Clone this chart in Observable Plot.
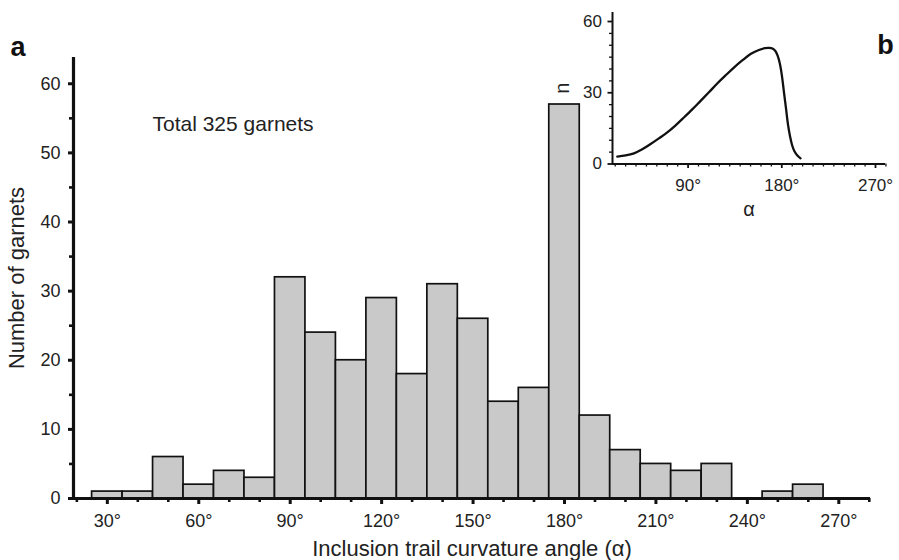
<!DOCTYPE html>
<html><head><meta charset="utf-8">
<script src="https://cdn.jsdelivr.net/npm/d3@7"></script>
<script src="https://cdn.jsdelivr.net/npm/@observablehq/plot@0.6"></script>
<style>
body{margin:0;background:#fff;}
#wrap{position:relative;width:899px;height:560px;font-family:"Liberation Sans",Arial,sans-serif;}
#inset{position:absolute;left:540px;top:0;}
</style></head><body><div id="wrap"><div id="main"></div><div id="inset"></div></div>
<script>
// Histogram: lower edge of each 10° bin and count of garnets
const binLo  = [25, 35, 45, 55, 65, 75, 85, 95, 105, 115, 125, 135, 145, 155, 165, 175, 185, 195, 205, 215, 225, 235, 245, 255];
const counts = [ 1,  1,  6,  2,  4,  3, 32, 24,  20,  29,  18,  31,  26,  14,  16,  57,  12,   7,   5,   4,   5,   0,   1,   2];
const binWidth = 10;

// Axis ticks
const xMajor = [30, 60, 90, 120, 150, 180, 210, 240, 270];
const xMinor = [20, 40, 50, 70, 80, 100, 110, 130, 140, 160, 170, 190, 200, 220, 230, 250, 260, 280];
const yMajor = [0, 10, 20, 30, 40, 50, 60];
const yMinor = [5, 15, 25, 35, 45, 55];

// Inset (b): modelled distribution
const curveAngle = [22, 30, 38, 46, 54, 62, 70, 78, 86, 94, 102, 110, 118, 126, 134, 142, 150, 158, 164, 168, 171, 174, 176, 178, 180, 182, 184, 186, 188, 190, 192, 195, 198];
const curveN     = [3.1, 3.6, 4.5, 6.2, 8.4, 10.8, 13.3, 16.3, 19.6, 23.0, 26.6, 30.2, 33.9, 37.3, 40.6, 43.6, 46.3, 48.0, 48.8, 48.9, 48.6, 47.5, 45.6, 42.5, 37.5, 30.5, 23.5, 16.5, 11.5, 7.8, 5.5, 3.6, 2.4];
const insetXMajor = [90, 180, 270];
const insetXMinor = [20, 30, 40, 50, 60, 70, 80, 100, 110, 120, 130, 140, 150, 160, 170, 190, 200, 210, 220, 230, 240, 250, 260, 280];
const insetYMajor = [0, 30, 60];
const insetYMinor = [5, 10, 15, 20, 25, 35, 40, 45, 50, 55];

const font = '"Liberation Sans", Arial, sans-serif';
const deg = d => d + "°";
const ink = "#111";

const bins = binLo.map((lo, i) => ({lo, hi: lo + binWidth, n: counts[i]}));

// Resize axis texts by their content (tick labels / axis titles)
function sizeTexts(svg, strings, size) {
  const set = new Set(strings.map(String));
  svg.querySelectorAll("text").forEach(t => {
    if (set.has(t.textContent.trim())) {
      t.setAttribute("font-size", size);
      t.style.fontSize = size + "px";
    }
  });
}

const main = Plot.plot({
  width: 899, height: 560,
  marginLeft: 73, marginRight: 29, marginTop: 57, marginBottom: 62,
  style: {fontFamily: font, fontSize: "18px", color: "#222", background: "white", overflow: "visible"},
  x: {domain: [18.9, 280.4], labelArrow: false},
  y: {domain: [0, 63.8], labelArrow: false},
  marks: [
    Plot.rectY(bins, {x1: "lo", x2: "hi", y: "n", fill: "#c9c9c9", stroke: ink, strokeWidth: 1.7}),
    Plot.axisX({ticks: xMinor, tickSize: 4, tickFormat: () => "", stroke: ink, strokeWidth: 2.6, label: null}),
    Plot.axisX({ticks: xMajor, tickSize: 6, tickPadding: 10, tickFormat: deg, stroke: ink, strokeWidth: 3, fontSize: 18,
      label: "Inclusion trail curvature angle (α)", labelAnchor: "center", labelOffset: 57, labelArrow: false}),
    Plot.axisY({ticks: yMinor, tickSize: 4, tickFormat: () => "", stroke: ink, strokeWidth: 2.6, label: null}),
    Plot.axisY({ticks: yMajor, tickSize: 5, tickPadding: 8, stroke: ink, strokeWidth: 3, fontSize: 18,
      label: "Number of garnets", labelAnchor: "center", labelOffset: 65, labelArrow: false}),
    Plot.ruleY([0], {strokeWidth: 3.2, stroke: ink}),
    Plot.ruleX([18.9], {strokeWidth: 3.2, stroke: ink}),
    Plot.text(["Total 325 garnets"], {frameAnchor: "top-left", dx: 79, dy: 67, textAnchor: "start", lineAnchor: "middle", fontSize: 21, fill: "#222"}),
    Plot.text(["a"], {frameAnchor: "top-left", dx: -55.5, dy: -10.5, textAnchor: "middle", lineAnchor: "middle", fontSize: 27, fontWeight: "bold", fill: ink})
  ]
});
sizeTexts(main, [...xMajor.map(deg), ...yMajor], 18);
sizeTexts(main, ["Inclusion trail curvature angle (α)", "Number of garnets"], 22);
document.getElementById("main").appendChild(main);

const inset = Plot.plot({
  width: 359, height: 230,
  marginLeft: 72, marginRight: 14, marginTop: 12, marginBottom: 66.5,
  style: {fontFamily: font, fontSize: "17px", color: "#222", background: "transparent", overflow: "visible"},
  x: {domain: [17.4, 279.6], labelArrow: false},
  y: {domain: [0, 63.8], labelArrow: false},
  marks: [
    Plot.axisX({ticks: insetXMinor, tickSize: 3, tickFormat: () => "", stroke: ink, strokeWidth: 1.3, label: null}),
    Plot.axisX({ticks: insetXMajor, tickSize: 4.5, tickPadding: 10, tickFormat: deg, stroke: ink, strokeWidth: 1.8, fontSize: 17,
      label: "α", labelAnchor: "center", labelOffset: 51.5, labelArrow: false}),
    Plot.axisY({ticks: insetYMinor, tickSize: 3, tickFormat: () => "", stroke: ink, strokeWidth: 1.3, label: null}),
    Plot.axisY({ticks: insetYMajor, tickSize: 4.5, tickPadding: 6, stroke: ink, strokeWidth: 1.8, fontSize: 17,
      label: "n", labelAnchor: "center", labelOffset: 57.5, labelArrow: false}),
    Plot.ruleY([0], {strokeWidth: 2, stroke: ink}),
    Plot.ruleX([17.4], {strokeWidth: 2, stroke: ink}),
    Plot.line(curveAngle.map((a, i) => ({a, n: curveN[i]})), {x: "a", y: "n", curve: "catmull-rom", stroke: ink, strokeWidth: 2.3}),
    Plot.text(["b"], {frameAnchor: "top-right", dx: 0, dy: 33, textAnchor: "middle", lineAnchor: "middle", fontSize: 27, fontWeight: "bold", fill: ink})
  ]
});
sizeTexts(inset, [...insetXMajor.map(deg), ...insetYMajor], 17);
sizeTexts(inset, ["α", "n"], 20);
document.getElementById("inset").appendChild(inset);
</script></body></html>
